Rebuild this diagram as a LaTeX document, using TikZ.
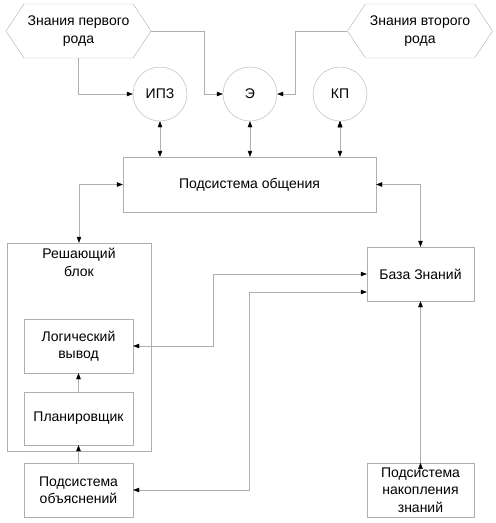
\documentclass[tikz,border=0pt]{standalone}
\usepackage{fontspec}
\setmainfont{Liberation Sans}
\usetikzlibrary{arrows.meta,shapes.symbols,positioning}
\definecolor{linegray}{RGB}{175,175,175}

\begin{document}
\begin{tikzpicture}[%
	    x=1pt,y=-1pt,
	    >={Triangle[length=6pt,width=4.5pt,color=black]},
	    font=\fontsize{14}{17.5}\selectfont,
	    every node/.append style={align=center,text=black},
	    block/.style={draw=linegray,rectangle,inner sep=0pt},
	    knowledge/.style={draw=linegray,signal,signal to=west and east,
	      signal pointer angle=113,minimum width=145pt,minimum height=54pt,inner sep=0pt},
	    unit/.style={draw=linegray,circle,minimum size=54pt,inner sep=0pt},
	    link/.style={draw=linegray,thin}
	  ]

	  \useasboundingbox (0,0) rectangle (496,523);

	  %\tikzstyle{every node}=[draw=red]

	  \node[knowledge] (first) at (78.5,31) {Знания первого\\рода};
	  \node[knowledge] (second) at (420,31) {Знания второго\\рода};
	  \node[unit] (IPZ) at (160,94) {ИПЗ};
	  \node[unit] (E) at (250,94) {Э};
	  \node[unit] (KP) at (340,94) {КП};
	  \node[block,minimum width=253pt,minimum height=55pt] (comm) at (249.5,184.5) {Подсистема общения};
	  \node[block,minimum width=144pt,minimum height=208pt] (solver) at (79,347) {};
	  \node (solvertitle) [below=2pt of solver.north] {Решающий\\блок};
	  \node[block,minimum width=109pt,minimum height=54pt] (logic) at (78.5,346) {Логический\\вывод};
	  \node[block,minimum width=109pt,minimum height=53pt] (planner) at (78.5,418.5) {Планировщик};
	  \node[block,minimum width=109pt,minimum height=54pt] (explain) at (78.5,490) {Подсистема\\объяснений};
	  \node[block,minimum width=107pt,minimum height=54pt] (KB) at (420.5,274) {База Знаний};
	  \node[block,minimum width=107pt,minimum height=54pt] (acquire) at (420.5,490) {Подсистема\\накопления\\знаний};

	  % knowledge sources
	  \draw[link,->] (first.south) |- (IPZ.west);
	  \draw[link,->] (first.east) -- ++(53,0) |- (E.west);
	  \draw[link,->] (second.west) -- ++(-52,0) |- (E.east);

	  % circles and the communication subsystem
	  \path[link,<->]
	      (IPZ.south) edge (IPZ.south |- comm.north)
	      (E.south) edge (E.south |- comm.north)
	      (KP.south) edge (KP.south |- comm.north);

	  \draw[link,<->] (solver.north) |- (comm.west);
	  \draw[link,<->] (comm.east) -| (KB.north);

	  % inside the solver
	  \path[link,->]
	      (planner.north) edge (logic.south)
	      (explain.north) edge (planner.south)
	      (acquire.north) edge (KB.south);

	  % knowledge base links
	  \draw[link,<->] (logic.east) -- ++(80,0) |- (KB.west);
	  \draw[link,<->] (explain.east) -- ++(116,0) |- ([yshift=-18pt]KB.west);

\end{tikzpicture}
\end{document}
